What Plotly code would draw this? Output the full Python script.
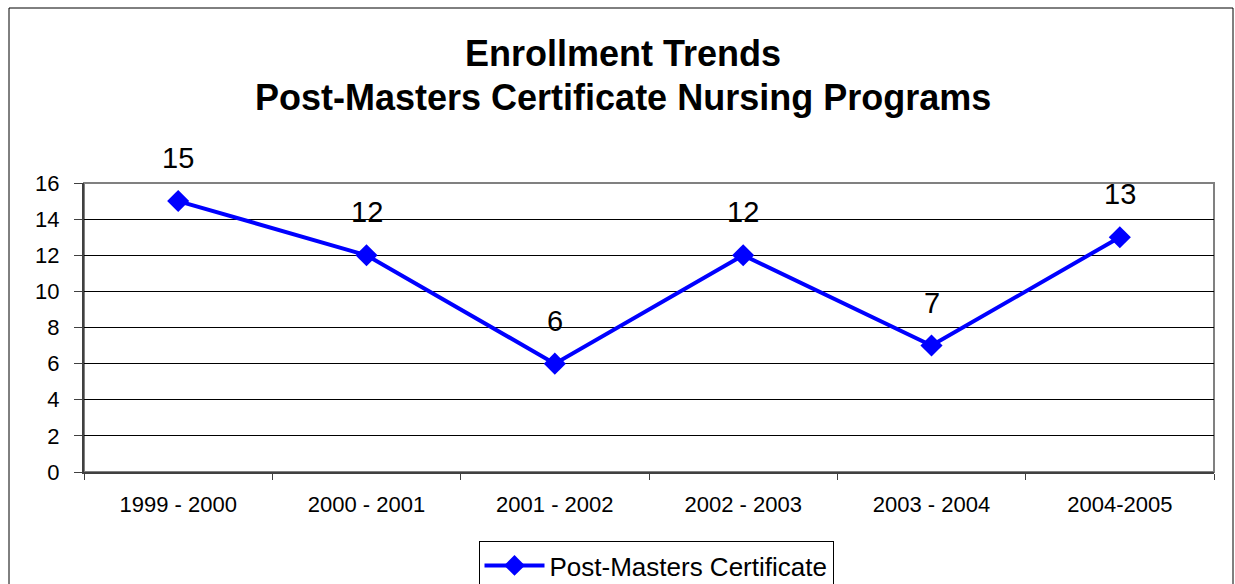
import plotly.graph_objects as go

years = ['1999 - 2000', '2000 - 2001', '2001 - 2002', '2002 - 2003', '2003 - 2004', '2004-2005']
enrollment = [15, 12, 6, 12, 7, 13]
series_name = 'Post-Masters Certificate'
title_lines = ['Enrollment Trends', 'Post-Masters Certificate Nursing Programs']

W, H = 1235, 584
L, R, T, B = 84, 21, 183, 112
pw, ph = W - L - R, H - T - B


def px_x(x):
    return (x - L) / pw


def px_y(y):
    return (H - B - y) / ph


fig = go.Figure()

fig.add_trace(go.Scatter(
    x=years,
    y=enrollment,
    mode='lines+markers',
    name=series_name,
    line=dict(color='#0000FF', width=4),
    marker=dict(symbol='diamond', size=17, color='#0000FF'),
))

for yr, v in zip(years, enrollment):
    fig.add_annotation(x=yr, y=v, text=str(v), showarrow=False, yshift=43,
                       font=dict(size=29, color='black'))

# title as two centred lines
for i, line in enumerate(title_lines):
    fig.add_annotation(xref='paper', yref='paper', x=px_x(623), y=px_y(53 + 44 * i),
                       text='<b>' + line + '</b>', showarrow=False,
                       xanchor='center', yanchor='middle',
                       font=dict(size=36, color='black'))

# outer chart border
fig.add_shape(type='rect', xref='paper', yref='paper',
              x0=px_x(9), x1=px_x(1233), y0=px_y(600), y1=px_y(8),
              line=dict(color='black', width=1))
# plot area border
fig.add_shape(type='rect', xref='paper', yref='paper', x0=0, x1=1, y0=0, y1=1,
              line=dict(color='#808080', width=2), layer='below')

fig.update_layout(
    width=W, height=H,
    margin=dict(l=L, r=R, t=T, b=B, autoexpand=False),
    paper_bgcolor='white', plot_bgcolor='white',
    font=dict(family='Liberation Sans, Arial, sans-serif', color='black'),
    showlegend=True,
    legend=dict(orientation='h', x=px_x(656), xanchor='center', y=px_y(541), yanchor='top',
                bordercolor='black', borderwidth=1, font=dict(size=26),
                itemwidth=60),
    xaxis=dict(showgrid=False, showline=True, linecolor='#404040', linewidth=2,
               ticks='outside', ticklen=6, tickcolor='#404040', tickson='boundaries',
               tickfont=dict(size=22), ticklabelstandoff=12,
               range=[-0.5, 5.5], automargin=False),
    yaxis=dict(range=[0, 16], dtick=2, showgrid=True, gridcolor='black', gridwidth=1,
               showline=True, linecolor='#404040', linewidth=2,
               ticks='outside', ticklen=8, tickcolor='#404040',
               tickfont=dict(size=22), ticklabelstandoff=10,
               zeroline=False, automargin=False),
)

fig.write_html('out.html', config={'displayModeBar': False},
               post_script="document.body.style.margin='0';")
